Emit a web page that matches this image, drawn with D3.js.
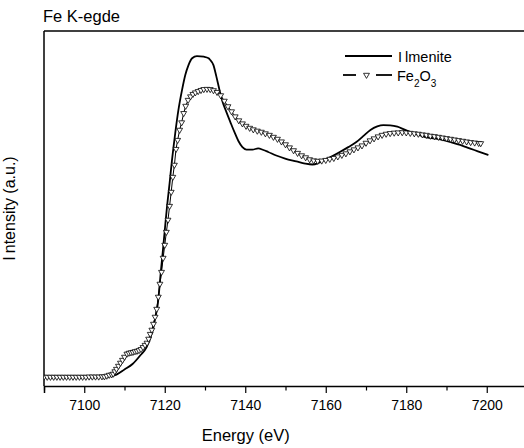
<!DOCTYPE html>
<html>
<head>
<meta charset="utf-8">
<script src="https://cdn.jsdelivr.net/npm/d3@7"></script>
<style>
  body { margin: 0; background: #fff; }
  svg { display: block; font-family: "Liberation Sans", Arial, sans-serif; }
  .axis path, .axis line { stroke: #000; }
</style>
</head>
<body>
<div id="chart"></div>
<script>

// chart data (energy in eV, normalized intensity)
var ilmeniteE = [7090, 7095, 7100, 7104, 7106, 7108, 7110, 7112, 7114, 7115.5, 7116.8, 7117.7, 7118.3,
    7119, 7119.5, 7120, 7120.56, 7121.2, 7121.8, 7122.6, 7123.4, 7124.3, 7125.1, 7125.9, 7126.8,
    7128.0, 7129.7, 7130.9, 7131.3, 7132.1, 7132.8, 7133.6, 7134.3, 7135.3, 7136.3, 7137.3, 7138.3,
    7139.3, 7140.3, 7141.8, 7143.2, 7144.5, 7145.7, 7147.7, 7149.9, 7152.7, 7154.9, 7156.7, 7158.2,
    7159.9, 7161.9, 7163.6, 7165.6, 7167.6, 7169.3, 7171.1, 7172.8, 7174.3, 7176.0, 7177.8, 7179.3,
    7181.0, 7182.8, 7184.7, 7187.2, 7189.2, 7191.4, 7193.4, 7195.2, 7196.9, 7198.7, 7200.4];
var ilmeniteI = [-0.002, -0.002, -0.002, -0.001, 0.002, 0.011, 0.034, 0.059, 0.100, 0.136, 0.200, 0.274, 0.336,
    0.473, 0.568, 0.666, 0.774, 0.880, 0.986, 1.108, 1.214, 1.305, 1.373, 1.418, 1.449,
    1.459, 1.456, 1.449, 1.441, 1.418, 1.368, 1.305, 1.255, 1.205, 1.159, 1.114, 1.073,
    1.045, 1.034, 1.034, 1.039, 1.032, 1.023, 1.007, 0.993, 0.980, 0.970, 0.966, 0.973,
    0.989, 1.007, 1.024, 1.045, 1.068, 1.095, 1.123, 1.139, 1.145, 1.144, 1.138, 1.127,
    1.114, 1.102, 1.091, 1.084, 1.077, 1.066, 1.055, 1.043, 1.032, 1.020, 1.009];

var fe2o3E = [7090.0, 7090.8, 7091.6, 7092.4, 7093.2, 7094.0, 7094.8, 7095.6, 7096.4, 7097.2, 7098.0,
    7098.8, 7099.6, 7100.4, 7101.2, 7102.0, 7102.8, 7103.6, 7104.4, 7105.0, 7105.6, 7106.2, 7106.8,
    7107.2, 7107.6, 7108.0, 7108.5, 7109.0, 7109.5, 7110.0, 7110.6, 7111.1, 7111.6, 7112.1, 7112.6,
    7113.1, 7113.6, 7114.1, 7114.6, 7115.1, 7115.6, 7116.0, 7116.4, 7116.8, 7117.2, 7117.6, 7118.0,
    7118.4, 7118.8, 7119.2, 7119.6, 7120.0, 7120.4, 7120.8, 7121.2, 7121.6, 7122.0, 7122.4, 7122.8,
    7123.2, 7123.7, 7124.2, 7124.7, 7125.2, 7125.8, 7126.4, 7127.0, 7127.6, 7128.3, 7129.0, 7129.7,
    7130.5, 7131.3, 7132.1, 7133.0, 7133.9, 7134.8, 7135.7, 7136.6, 7137.5, 7138.4, 7139.3, 7140.2,
    7141.1, 7142.0, 7143.0, 7144.0, 7145.0, 7146.0, 7147.0, 7148.0, 7149.0, 7150.0, 7151.0, 7152.0,
    7153.0, 7154.0, 7155.0, 7156.0, 7157.0, 7158.0, 7159.0, 7160.0, 7161.0, 7162.0, 7163.0, 7164.0,
    7165.0, 7166.0, 7167.0, 7168.0, 7169.0, 7170.0, 7171.0, 7172.0, 7173.0, 7174.0, 7175.0, 7176.0,
    7177.0, 7178.0, 7179.0, 7180.0, 7181.0, 7182.0, 7183.0, 7184.0, 7185.0, 7186.0, 7187.0, 7188.0,
    7189.0, 7190.0, 7191.0, 7192.0, 7193.0, 7194.0, 7195.0, 7196.0, 7197.0, 7198.0, 7198.5];
var fe2o3I = [0.000, 0.000, 0.000, 0.000, 0.000, 0.000, 0.000, 0.000, 0.000, 0.000, 0.000,
    0.000, 0.000, 0.000, 0.001, 0.001, 0.001, 0.001, 0.002, 0.002, 0.005, 0.009, 0.011,
    0.014, 0.025, 0.036, 0.050, 0.064, 0.077, 0.091, 0.105, 0.109, 0.111, 0.113, 0.116,
    0.118, 0.121, 0.126, 0.135, 0.145, 0.155, 0.173, 0.195, 0.214, 0.241, 0.273, 0.309,
    0.364, 0.423, 0.477, 0.541, 0.600, 0.659, 0.714, 0.777, 0.841, 0.909, 0.964, 1.036,
    1.077, 1.123, 1.157, 1.199, 1.232, 1.259, 1.275, 1.286, 1.293, 1.299, 1.304, 1.308,
    1.309, 1.308, 1.303, 1.295, 1.280, 1.255, 1.230, 1.207, 1.184, 1.166, 1.152, 1.141,
    1.132, 1.125, 1.119, 1.114, 1.107, 1.100, 1.091, 1.082, 1.070, 1.057, 1.043, 1.030,
    1.018, 1.007, 0.998, 0.989, 0.984, 0.982, 0.983, 0.986, 0.991, 0.995, 1.002, 1.009,
    1.016, 1.025, 1.034, 1.043, 1.052, 1.064, 1.075, 1.084, 1.093, 1.100, 1.105, 1.108,
    1.110, 1.111, 1.112, 1.111, 1.109, 1.107, 1.105, 1.102, 1.100, 1.096, 1.094, 1.091,
    1.088, 1.085, 1.082, 1.079, 1.076, 1.073, 1.070, 1.067, 1.065, 1.063, 1.062];

var majorTicks = [7100, 7120, 7140, 7160, 7180, 7200];
var minorTicks = [7090, 7110, 7130, 7150, 7170, 7190, 7210];

// init size
var width = 524;
var height = 448;
var margin = {top: 31, right: -3, bottom: 62, left: 44};
var plotW = width - margin.left - margin.right;
var plotH = height - margin.top - margin.bottom;

// init scales
var x = d3.scaleLinear()
    .domain([7090, 7210])
    .range([0, plotW]);

var y = d3.scaleLinear()
    .domain([-0.041, 1.573])
    .range([plotH, 0]);

var svg = d3.select("#chart")
    .append("svg")
    .attr("width", width)
    .attr("height", height);

// title
svg.append("text")
    .attr("x", 43)
    .attr("y", 22)
    .attr("font-size", 16.5)
    .text("Fe K-egde");

var plot = svg.append("g")
    .attr("transform", "translate(" + margin.left + "," + margin.top + ")");

// clip for curves
plot.append("clipPath")
    .attr("id", "clip")
    .append("rect")
    .attr("width", plotW)
    .attr("height", plotH);

// x axis, major and minor
plot.append("g")
    .attr("class", "axis")
    .attr("transform", "translate(0," + plotH + ")")
    .call(d3.axisBottom(x).tickValues(majorTicks).tickSize(7).tickPadding(7).tickFormat(d3.format("d")))
    .call(g => g.select(".domain").attr("stroke-width", 1.5))
    .call(g => g.selectAll(".tick line").attr("stroke-width", 1.2))
    .call(g => g.selectAll(".tick text")
        .attr("font-size", 14)
        .attr("font-family", "Liberation Sans, Arial, sans-serif"));

plot.append("g")
    .attr("class", "axis")
    .attr("transform", "translate(0," + plotH + ")")
    .call(d3.axisBottom(x).tickValues(minorTicks).tickSize(4.5).tickFormat(""))
    .call(g => g.select(".domain").remove())
    .call(g => g.selectAll(".tick line").attr("stroke-width", 1.2));

// left axis and top frame
plot.append("line")
    .attr("x1", 0).attr("x2", 0)
    .attr("y1", 0).attr("y2", plotH)
    .attr("stroke", "#000")
    .attr("stroke-width", 1.5);

plot.append("line")
    .attr("x1", 0).attr("x2", plotW)
    .attr("y1", 0).attr("y2", 0)
    .attr("stroke", "#000")
    .attr("stroke-width", 1.5);

// axis labels
svg.append("text")
    .attr("x", margin.left + x(7140) + 0.5)
    .attr("y", 441)
    .attr("text-anchor", "middle")
    .attr("font-size", 16.5)
    .text("Energy (eV)");

var yLabel = svg.append("text")
    .attr("transform", "translate(15," + (margin.top + plotH / 2) + ") rotate(-90)")
    .attr("text-anchor", "middle")
    .attr("font-size", 16);
yLabel.append("tspan").text("I");
yLabel.append("tspan").attr("dx", 3).text("ntensity (a.u.)");

// curves
var ilmenite = ilmeniteE.map((e, i) => ({e: e, v: ilmeniteI[i]}));
var fe2o3 = fe2o3E.map((e, i) => ({e: e, v: fe2o3I[i]}));

var line = d3.line()
    .x(d => x(d.e))
    .y(d => y(d.v))
    .curve(d3.curveMonotoneX);

var curves = plot.append("g").attr("clip-path", "url(#clip)");

curves.append("path")
    .datum(fe2o3)
    .attr("fill", "none")
    .attr("stroke", "#000")
    .attr("stroke-width", 1)
    .attr("d", d3.line().x(d => x(d.e)).y(d => y(d.v)));

curves.append("path")
    .datum(ilmenite)
    .attr("fill", "none")
    .attr("stroke", "#000")
    .attr("stroke-width", 1.8)
    .attr("d", line);

var triangle = d3.symbol().type(d3.symbolTriangle).size(15);

curves.selectAll("path.marker")
    .data(fe2o3)
    .enter().append("path")
    .attr("class", "marker")
    .attr("d", triangle)
    .attr("transform", d => "translate(" + x(d.e) + "," + y(d.v) + ") rotate(180)")
    .attr("fill", "#fff")
    .attr("stroke", "#000")
    .attr("stroke-width", 0.8);

// legend
var legend = svg.append("g");

legend.append("line")
    .attr("x1", 345).attr("x2", 392)
    .attr("y1", 56).attr("y2", 56)
    .attr("stroke", "#000")
    .attr("stroke-width", 1.8);

var l1 = legend.append("text")
    .attr("x", 398)
    .attr("y", 61.5)
    .attr("font-size", 14.5);
l1.append("tspan").text("I");
l1.append("tspan").attr("dx", 3).text("lmenite");

legend.append("line")
    .attr("x1", 343).attr("x2", 356)
    .attr("y1", 75).attr("y2", 75)
    .attr("stroke", "#000")
    .attr("stroke-width", 1.8);

legend.append("line")
    .attr("x1", 376).attr("x2", 392)
    .attr("y1", 75).attr("y2", 75)
    .attr("stroke", "#000")
    .attr("stroke-width", 1.8);

legend.append("path")
    .attr("d", triangle)
    .attr("transform", "translate(366.5,75) rotate(180)")
    .attr("fill", "#fff")
    .attr("stroke", "#000")
    .attr("stroke-width", 0.8);

var l2 = legend.append("text")
    .attr("x", 397)
    .attr("y", 80.5)
    .attr("font-size", 14.5);
l2.append("tspan").text("Fe");
l2.append("tspan").attr("dy", 6).attr("font-size", 10).text("2");
l2.append("tspan").attr("dy", -6).text("O");
l2.append("tspan").attr("dy", 6).attr("font-size", 10).text("3");

</script>
</body>
</html>
